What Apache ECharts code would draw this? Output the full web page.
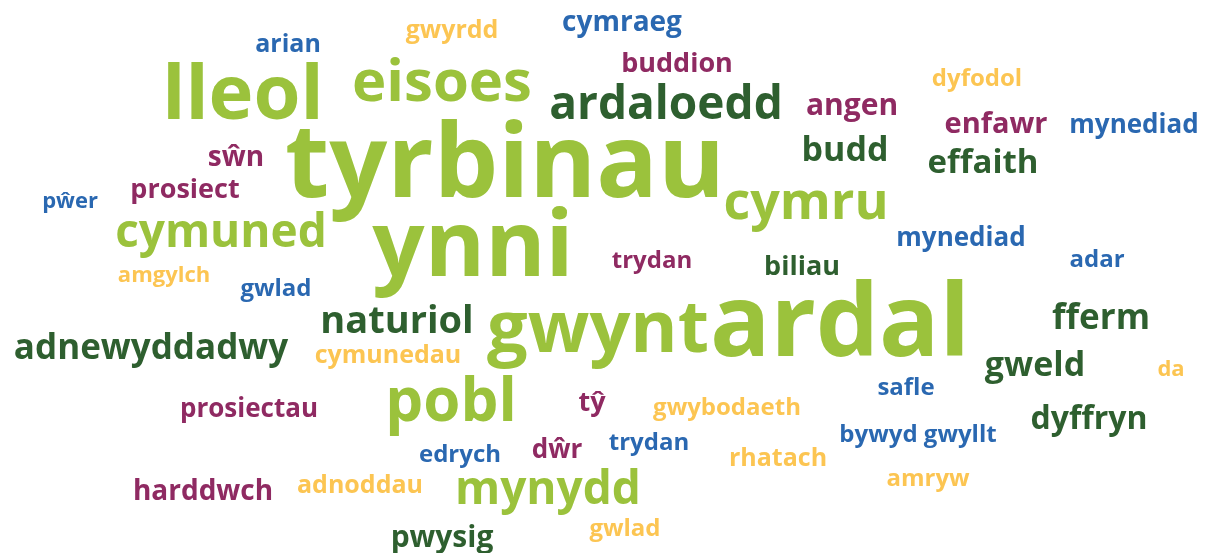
<!DOCTYPE html>
<html>
<head>
<meta charset="utf-8">
<script src="https://cdn.jsdelivr.net/npm/echarts@6/dist/echarts.min.js"></script>
<style>
  html, body { margin: 0; padding: 0; background: #fff; }
  #main { width: 1206px; height: 553px; }
</style>
</head>
<body>
<div id="main"></div>
<script>
// geiriau a'u pwysau (maint y ffont)
var words = ['tyrbinau', 'lleol', 'eisoes', 'ardaloedd', 'cymraeg', 'gwyrdd', 'arian', 'buddion',
  'dyfodol', 'angen', 'enfawr', 'mynediad', 'budd', 'effaith', 'sŵn', 'prosiect', 'pŵer', 'cymru',
  'cymuned', 'ynni', 'mynediad', 'amgylch', 'gwlad', 'trydan', 'biliau', 'adar', 'naturiol', 'gwynt',
  'ardal', 'fferm', 'adnewyddadwy', 'cymunedau', 'gweld', 'da', 'safle', 'pobl', 'tŷ', 'gwybodaeth',
  'prosiectau', 'dyffryn', 'bywyd gwyllt', 'edrych', 'dŵr', 'trydan', 'rhatach', 'harddwch',
  'adnoddau', 'mynydd', 'amryw', 'gwlad', 'pwysig'];
var weights = [102, 76, 58, 46, 28, 25, 25, 27,
  24, 30, 29, 26, 34, 33, 28, 27, 22, 52,
  46, 92, 26, 22, 24, 24, 27, 24, 38, 72,
  100, 35, 35, 25, 34, 22, 24, 60, 27, 24,
  26, 32, 24, 24, 26, 24, 25, 28,
  25, 46, 24, 24, 30];
var xPos = [505, 243, 442, 666, 622, 452, 288, 677,
  977, 852, 996, 1134, 845, 983, 236, 185, 70, 806,
  221, 473, 961, 164, 276, 652, 802, 1097, 397, 598,
  840, 1101, 151, 388, 1035, 1171, 906, 451, 592, 727,
  249, 1089, 918, 460, 557, 649, 778, 203,
  360, 548, 928, 625, 442];
var yPos = [168, 97, 84, 106, 23, 31, 45, 64,
  79, 106, 125, 126, 151, 164, 158, 190, 202, 204,
  234, 250, 239, 276, 289, 261, 267, 260, 322, 331,
  328, 319, 349, 356, 366, 370, 388, 404, 403, 408,
  410, 420, 435, 455, 451, 443, 459, 492,
  486, 491, 479, 529, 538];
// 0 calch, 1 gwyrdd tywyll, 2 magenta, 3 glas, 4 melyn
var colorIdx = [0, 0, 0, 1, 3, 4, 3, 2,
  4, 2, 2, 3, 1, 1, 2, 2, 3, 0,
  0, 0, 3, 4, 3, 2, 1, 3, 1, 0,
  0, 1, 1, 4, 1, 4, 3, 0, 2, 4,
  2, 1, 3, 3, 2, 3, 4, 2,
  4, 0, 4, 4, 1];
var palette = ['#9bc23c', '#2e5f2f', '#8f2a62', '#2a68b1', '#fcc552'];

var chart = echarts.init(document.getElementById('main'));

var data = words.map(function (w, i) {
  return {
    name: w,
    value: [xPos[i], yPos[i]],
    label: { fontSize: weights[i], color: palette[colorIdx[i]] }
  };
});

var option = {
  animation: false,
  grid: { left: 0, right: 0, top: 0, bottom: 0 },
  xAxis: { type: 'value', min: 0, max: 1206, show: false },
  yAxis: { type: 'value', min: 0, max: 553, inverse: true, show: false },
  series: [{
    type: 'scatter',
    symbolSize: 0,
    itemStyle: { opacity: 1 },
    data: data,
    label: {
      show: true,
      position: 'inside',
      formatter: '{b}',
      fontFamily: 'Open Sans',
      fontWeight: 'bold',
      opacity: 1
    }
  }]
};
chart.setOption(option);
</script>
</body>
</html>
